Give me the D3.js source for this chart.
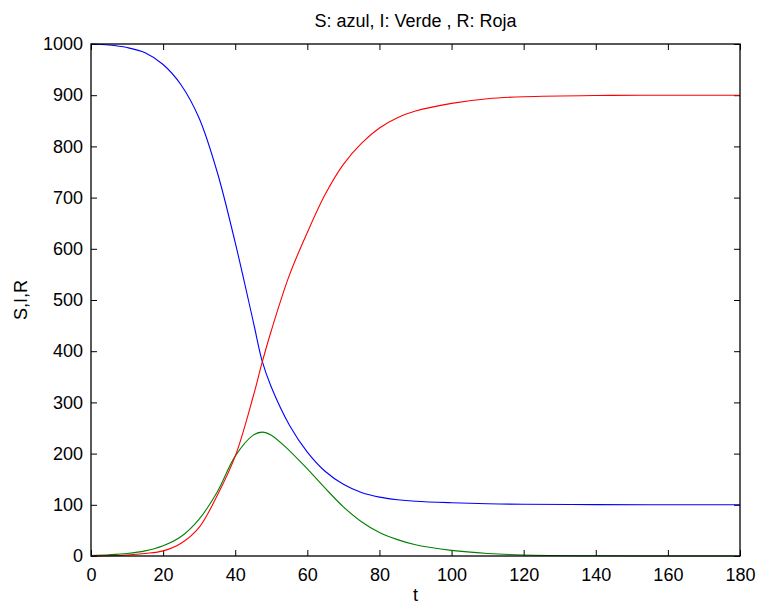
<!DOCTYPE html>
<html>
<head>
<meta charset="utf-8">
<script src="https://cdn.jsdelivr.net/npm/d3@7"></script>
<style>
  body { margin: 0; background: #fff; }
  text { font-family: "Liberation Sans", Arial, sans-serif; fill: #000; }
</style>
</head>
<body>
<script>
// tiempo y curvas
var tiempo = [0, 5, 10, 15, 20, 25, 30, 35, 40, 45, 47.5, 50, 55, 60, 65, 70, 75, 80, 85, 90, 100, 110, 120, 140, 160, 180];
var susceptibles = [1000, 998, 993, 983, 960, 920, 855, 750, 612, 458, 380, 330, 256, 203, 165, 140, 124, 115, 110, 107, 104, 102, 101, 100.3, 100.1, 100];
var infectados = [1, 2.5, 5, 10, 20, 38, 72, 125, 195, 236, 242, 236, 206, 170, 132, 96, 67, 46, 32, 22, 11, 5, 2, 0.4, 0.1, 0];
var recuperados = [0, 0.5, 2, 5, 10, 25, 56, 118, 195, 312, 379, 440, 548, 632, 707, 765, 806, 836, 856, 869, 884, 893, 897, 899.5, 900, 900];
var xTicks = [0, 20, 40, 60, 80, 100, 120, 140, 160, 180];
var yTicks = [0, 100, 200, 300, 400, 500, 600, 700, 800, 900, 1000];

var W = 760, H = 604;
var margin = {left: 91, right: 20, top: 44, bottom: 48};

var svg = d3.select("body").append("svg").attr("width", W).attr("height", H);

var x = d3.scaleLinear().domain([0, 180]).range([margin.left, W - margin.right]);
var y = d3.scaleLinear().domain([0, 1000]).range([H - margin.bottom, margin.top]);

// ejes con ticks hacia dentro
svg.append("g").attr("transform", "translate(0," + y(0) + ")")
  .call(d3.axisBottom(x).tickValues(xTicks).tickFormat(d3.format("d")).tickSizeInner(-6).tickSizeOuter(0).tickPadding(12))
  .call(g => g.select(".domain").remove())
  .selectAll("text").style("font-size", "18px");
svg.append("g").attr("transform", "translate(0," + y(1000) + ")")
  .call(d3.axisTop(x).tickValues(xTicks).tickSizeInner(-6).tickSizeOuter(0).tickFormat(""))
  .call(g => g.select(".domain").remove());
svg.append("g").attr("transform", "translate(" + x(0) + ",0)")
  .call(d3.axisLeft(y).tickValues(yTicks).tickFormat(d3.format("d")).tickSizeInner(-6).tickSizeOuter(0).tickPadding(8))
  .call(g => g.select(".domain").remove())
  .selectAll("text").style("font-size", "18px");
svg.append("g").attr("transform", "translate(" + x(180) + ",0)")
  .call(d3.axisRight(y).tickValues(yTicks).tickSizeInner(-6).tickSizeOuter(0).tickFormat(""))
  .call(g => g.select(".domain").remove());

svg.selectAll(".tick line").attr("stroke", "#000");

var series = [
  {vals: susceptibles, color: "#0000ff"},
  {vals: infectados, color: "#008000"},
  {vals: recuperados, color: "#ff0000"}
];

var line = d3.line().curve(d3.curveCatmullRom.alpha(0.5));
svg.selectAll(".serie").data(series).enter().append("path")
  .attr("class", "serie")
  .attr("fill", "none")
  .attr("stroke", d => d.color)
  .attr("stroke-width", 1.1)
  .attr("d", d => line(d.vals.map((v, i) => [x(tiempo[i]), y(v)])));

// caja
svg.append("rect")
  .attr("x", x(0)).attr("y", y(1000))
  .attr("width", x(180) - x(0)).attr("height", y(0) - y(1000))
  .attr("fill", "none").attr("stroke", "#000").attr("stroke-width", 1.3);

svg.append("text").attr("x", (x(0) + x(180)) / 2).attr("y", 27)
  .attr("text-anchor", "middle").style("font-size", "18px")
  .text("S: azul, I: Verde , R: Roja");
svg.append("text").attr("x", (x(0) + x(180)) / 2).attr("y", 601)
  .attr("text-anchor", "middle").style("font-size", "18px").text("t");
svg.append("text").attr("transform", "translate(27," + (y(500)) + ") rotate(-90)")
  .attr("text-anchor", "middle").style("font-size", "18px").text("S,I,R");
</script>
</body>
</html>
